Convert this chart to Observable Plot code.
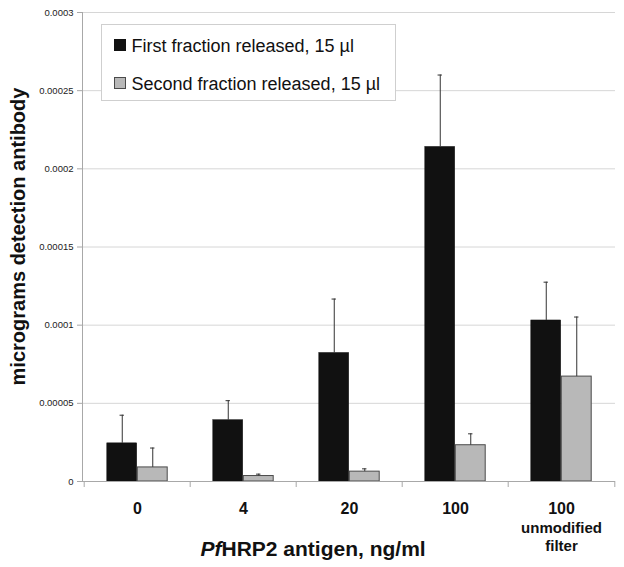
<!DOCTYPE html>
<html><head><meta charset="utf-8">
<script src="https://cdn.jsdelivr.net/npm/d3@7"></script>
<script src="https://cdn.jsdelivr.net/npm/@observablehq/plot@0.6"></script>
<style>body{margin:0;background:#fff;font-family:"Liberation Sans",Arial,sans-serif}</style>
</head><body><div id="chart"></div>
<script>
// ---- data ----
const categories = ["0", "4", "20", "100", "100 unmodified filter"];
const catLabels = ["0", "4", "20", "100", "100"];
const catSubLabels = ["", "", "", "", "unmodified\nfilter"];
const seriesNames = ["First fraction released, 15 µl", "Second fraction released, 15 µl"];
const seriesColors = ["#111111", "#b8b8b8"];
const firstValues = [0.0000244, 0.0000392, 0.0000822, 0.000214, 0.000103];
const firstErrors = [0.0000180, 0.0000125, 0.0000345, 0.0000460, 0.0000245];
const secondValues = [0.0000090, 0.0000035, 0.0000063, 0.0000232, 0.0000671];
const secondErrors = [0.0000124, 0.0000012, 0.0000018, 0.0000073, 0.0000381];
const yTicks = [0, 0.00005, 0.0001, 0.00015, 0.0002, 0.00025, 0.0003];
const yTickLabels = ["0", "0.00005", "0.0001", "0.00015", "0.0002", "0.00025", "0.0003"];
const yLabel = "micrograms detection antibody";
const xLabelItalic = "Pf";
const xLabelRest = "HRP2 antigen, ng/ml";

const rows = [];
categories.forEach((c, i) => {
  rows.push({cat: c, s: 0, value: firstValues[i], err: firstErrors[i]});
  rows.push({cat: c, s: 1, value: secondValues[i], err: secondErrors[i]});
});
const first = rows.filter(d => d.s === 0);
const second = rows.filter(d => d.s === 1);

// ---- layout ----
const W = 624, H = 567, mL = 82, mR = 9, mT = 12, mB = 86;
const bw = (W - mL - mR) / categories.length;
const barW = 30.5;
const axisGray = "#a8a8a8";

const plot = Plot.plot({
  width: W, height: H,
  marginLeft: mL, marginRight: mR, marginTop: mT, marginBottom: mB,
  style: {fontFamily: '"Liberation Sans", Arial, sans-serif', background: "#fff"},
  x: {type: "band", domain: categories, paddingInner: 0, paddingOuter: 0, axis: null},
  y: {domain: [0, 0.0003], axis: null},
  marks: [
    Plot.ruleY(yTicks.slice(1), {stroke: "#d6d6d6"}),
    Plot.frame({anchor: "left", stroke: axisGray}),
    Plot.ruleX(categories, {x: d => d, y1: 0, y2: 0, insetBottom: -6, dx: -bw / 2, stroke: axisGray}),
    Plot.ruleX(categories.slice(-1), {x: d => d, y1: 0, y2: 0, insetBottom: -6, dx: bw / 2, stroke: axisGray}),
    Plot.barY(first, {x: "cat", y: "value", fill: seriesColors[0], stroke: "#111", strokeWidth: 0.5,
      insetLeft: bw / 2 - barW, insetRight: bw / 2}),
    Plot.barY(second, {x: "cat", y: "value", fill: seriesColors[1], stroke: "#4a4a4a", strokeWidth: 1,
      insetLeft: bw / 2, insetRight: bw / 2 - barW}),
    Plot.ruleY([0], {stroke: axisGray}),
    Plot.ruleX(first, {x: "cat", y1: "value", y2: d => d.value + d.err, dx: -barW / 2, stroke: "#333"}),
    Plot.ruleX(second, {x: "cat", y1: "value", y2: d => d.value + d.err, dx: barW / 2, stroke: "#333"}),
    Plot.tickY(first, {x: "cat", y: d => d.value + d.err, dx: -barW / 2, insetLeft: bw / 2 - 2.5, insetRight: bw / 2 - 2.5, stroke: "#333"}),
    Plot.tickY(second, {x: "cat", y: d => d.value + d.err, dx: barW / 2, insetLeft: bw / 2 - 2.5, insetRight: bw / 2 - 2.5, stroke: "#333"}),
    Plot.axisY(yTicks, {tickSize: 5, tickPadding: 4, fontSize: 9.5, color: "#222",
      tickFormat: d => yTickLabels[yTicks.indexOf(d)], label: null}),
    Plot.text(categories, {x: d => d, text: (d, i) => catLabels[i], frameAnchor: "bottom", lineAnchor: "middle", dy: 27.5,
      fontSize: 16, fontWeight: "bold", fill: "#111"}),
    Plot.text(categories, {x: d => d, text: (d, i) => catSubLabels[i], frameAnchor: "bottom", lineAnchor: "middle", dy: 54.5,
      lineHeight: 1.22, fontSize: 15, fontWeight: "bold", fill: "#111"}),
    Plot.text([xLabelItalic], {frameAnchor: "bottom-left", lineAnchor: "middle", dx: 139, dy: 68, textAnchor: "end",
      fontSize: 21, fontWeight: "bold", fontStyle: "italic", fill: "#111"}),
    Plot.text([xLabelRest], {frameAnchor: "bottom-left", lineAnchor: "middle", dx: 139, dy: 68, textAnchor: "start",
      fontSize: 21, fontWeight: "bold", fill: "#111"})
  ]
});

const svg = d3.select(plot);
svg.selectAll('[aria-label="y-axis tick"]').attr("stroke", axisGray);

// y-axis title
svg.append("text")
  .attr("transform", `translate(${mL - 63.6},236.5) rotate(-90)`)
  .attr("text-anchor", "middle").attr("dy", "0.35em")
  .attr("font-size", 20).attr("font-weight", "bold").attr("fill", "#111")
  .text(yLabel);

// legend (inside plot area)
const lg = svg.append("g").attr("transform", "translate(101.5,24.5)").attr("text-anchor", "start");
lg.append("rect").attr("width", 294).attr("height", 76).attr("fill", "#fff").attr("stroke", "#cfcfcf");
seriesNames.forEach((name, i) => {
  const row = lg.append("g").attr("transform", `translate(13,${15 + i * 38})`);
  row.append("rect").attr("width", 11).attr("height", 11)
    .attr("fill", seriesColors[i]).attr("stroke", i ? "#4a4a4a" : "#111");
  row.append("text").attr("x", 17).attr("y", 12).attr("font-size", 18)
    .attr("text-anchor", "start").attr("fill", "#111").text(name);
});

document.getElementById("chart").appendChild(plot);
</script>
</body></html>
